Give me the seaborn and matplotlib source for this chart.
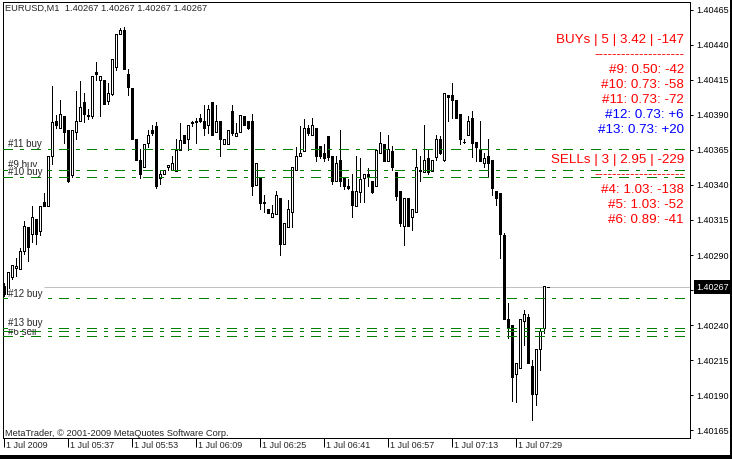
import numpy as np
import pandas as pd
import matplotlib
matplotlib.use("Agg")
import matplotlib.pyplot as plt
from matplotlib.patches import Rectangle
from matplotlib.transforms import blended_transform_factory, offset_copy
import seaborn as sns

# EURUSD M1 candles, 1 Jul 2009 (bar 0 = 05:21)
bar_open = [
    1.40268, 1.40262, 1.40274, 1.40281, 1.40280, 1.40293, 1.40310, 1.40305, 1.40316, 1.40307,
    1.40328, 1.40325, 1.40361, 1.40386, 1.40381, 1.40389, 1.40379, 1.40347, 1.40378, 1.40386,
    1.40399, 1.40389, 1.40389, 1.40421, 1.40415, 1.40415, 1.40400, 1.40405, 1.40424, 1.40448,
    1.40451, 1.40419, 1.40409, 1.40373, 1.40358, 1.40353, 1.40370, 1.40379, 1.40382, 1.40345,
    1.40348, 1.40353, 1.40351, 1.40350, 1.40365, 1.40376, 1.40373, 1.40384, 1.40385, 1.40388,
    1.40386, 1.40383, 1.40399, 1.40378, 1.40386, 1.40369, 1.40369, 1.40393, 1.40375, 1.40378,
    1.40389, 1.40386, 1.40386, 1.40340, 1.40346, 1.40328, 1.40323, 1.40317, 1.40319, 1.40331,
    1.40298, 1.40310, 1.40321, 1.40351, 1.40361, 1.40364, 1.40381, 1.40376, 1.40381, 1.40368,
    1.40363, 1.40375, 1.40361, 1.40343, 1.40358, 1.40345, 1.40339, 1.40336, 1.40325, 1.40335,
    1.40345, 1.40348, 1.40343, 1.40339, 1.40363, 1.40369, 1.40357, 1.40364, 1.40349, 1.40336,
    1.40311, 1.40331, 1.40317, 1.40321, 1.40351, 1.40349, 1.40359, 1.40350, 1.40360, 1.40373,
    1.40358, 1.40404, 1.40404, 1.40401, 1.40391, 1.40371, 1.40376, 1.40388, 1.40371, 1.40366,
    1.40356, 1.40361, 1.40358, 1.40336, 1.40334, 1.40304, 1.40244, 1.40240, 1.40205, 1.40209,
    1.40243, 1.40246, 1.40211, 1.40191, 1.40223, 1.40238, 1.40267,
]
bar_high = [
    1.40270, 1.40278, 1.40283, 1.40288, 1.40295, 1.40314, 1.40310, 1.40325, 1.40316, 1.40325,
    1.40334, 1.40361, 1.40411, 1.40390, 1.40401, 1.40389, 1.40379, 1.40379, 1.40407, 1.40414,
    1.40406, 1.40394, 1.40418, 1.40428, 1.40418, 1.40415, 1.40413, 1.40430, 1.40448, 1.40452,
    1.40453, 1.40423, 1.40409, 1.40373, 1.40366, 1.40369, 1.40379, 1.40383, 1.40385, 1.40350,
    1.40351, 1.40354, 1.40361, 1.40373, 1.40384, 1.40376, 1.40383, 1.40386, 1.40388, 1.40391,
    1.40397, 1.40397, 1.40399, 1.40397, 1.40386, 1.40373, 1.40379, 1.40397, 1.40384, 1.40390,
    1.40389, 1.40386, 1.40391, 1.40356, 1.40346, 1.40333, 1.40323, 1.40326, 1.40336, 1.40331,
    1.40313, 1.40329, 1.40353, 1.40367, 1.40382, 1.40387, 1.40383, 1.40388, 1.40381, 1.40368,
    1.40369, 1.40375, 1.40361, 1.40361, 1.40379, 1.40345, 1.40344, 1.40348, 1.40361, 1.40359,
    1.40348, 1.40352, 1.40343, 1.40365, 1.40378, 1.40369, 1.40376, 1.40368, 1.40349, 1.40336,
    1.40331, 1.40331, 1.40323, 1.40366, 1.40361, 1.40383, 1.40366, 1.40358, 1.40376, 1.40375,
    1.40406, 1.40404, 1.40413, 1.40401, 1.40391, 1.40373, 1.40389, 1.40393, 1.40371, 1.40386,
    1.40363, 1.40373, 1.40358, 1.40336, 1.40334, 1.40306, 1.40256, 1.40240, 1.40213, 1.40244,
    1.40251, 1.40248, 1.40215, 1.40223, 1.40238, 1.40268, 1.40267,
]
bar_low = [
    1.40261, 1.40261, 1.40273, 1.40275, 1.40280, 1.40291, 1.40286, 1.40299, 1.40298, 1.40304,
    1.40325, 1.40325, 1.40355, 1.40381, 1.40381, 1.40370, 1.40342, 1.40346, 1.40373, 1.40386,
    1.40385, 1.40387, 1.40388, 1.40415, 1.40389, 1.40398, 1.40398, 1.40404, 1.40422, 1.40448,
    1.40423, 1.40404, 1.40373, 1.40358, 1.40345, 1.40353, 1.40367, 1.40376, 1.40338, 1.40341,
    1.40348, 1.40351, 1.40351, 1.40350, 1.40365, 1.40370, 1.40365, 1.40382, 1.40370, 1.40385,
    1.40376, 1.40377, 1.40376, 1.40378, 1.40361, 1.40369, 1.40369, 1.40376, 1.40375, 1.40378,
    1.40383, 1.40380, 1.40333, 1.40340, 1.40323, 1.40321, 1.40320, 1.40317, 1.40319, 1.40290,
    1.40298, 1.40310, 1.40310, 1.40351, 1.40361, 1.40364, 1.40376, 1.40376, 1.40357, 1.40359,
    1.40357, 1.40358, 1.40341, 1.40343, 1.40339, 1.40337, 1.40337, 1.40317, 1.40325, 1.40328,
    1.40328, 1.40339, 1.40334, 1.40339, 1.40363, 1.40357, 1.40357, 1.40351, 1.40329, 1.40311,
    1.40297, 1.40311, 1.40308, 1.40321, 1.40343, 1.40349, 1.40348, 1.40350, 1.40358, 1.40362,
    1.40357, 1.40386, 1.40388, 1.40388, 1.40369, 1.40370, 1.40376, 1.40360, 1.40357, 1.40357,
    1.40353, 1.40346, 1.40333, 1.40326, 1.40288, 1.40244, 1.40231, 1.40186, 1.40185, 1.40209,
    1.40226, 1.40213, 1.40172, 1.40183, 1.40208, 1.40234, 1.40267,
]
bar_close = [
    1.40262, 1.40278, 1.40283, 1.40282, 1.40293, 1.40311, 1.40296, 1.40317, 1.40305, 1.40325,
    1.40325, 1.40361, 1.40385, 1.40383, 1.40391, 1.40378, 1.40343, 1.40379, 1.40386, 1.40396,
    1.40391, 1.40390, 1.40418, 1.40419, 1.40418, 1.40398, 1.40406, 1.40430, 1.40448, 1.40451,
    1.40423, 1.40410, 1.40373, 1.40358, 1.40348, 1.40369, 1.40376, 1.40377, 1.40339, 1.40348,
    1.40351, 1.40354, 1.40356, 1.40365, 1.40372, 1.40370, 1.40383, 1.40385, 1.40386, 1.40386,
    1.40381, 1.40394, 1.40376, 1.40386, 1.40373, 1.40373, 1.40379, 1.40377, 1.40377, 1.40390,
    1.40383, 1.40381, 1.40339, 1.40356, 1.40327, 1.40327, 1.40320, 1.40320, 1.40333, 1.40298,
    1.40313, 1.40323, 1.40353, 1.40361, 1.40363, 1.40381, 1.40377, 1.40383, 1.40361, 1.40361,
    1.40359, 1.40360, 1.40343, 1.40356, 1.40343, 1.40339, 1.40338, 1.40326, 1.40336, 1.40344,
    1.40348, 1.40346, 1.40335, 1.40365, 1.40370, 1.40357, 1.40366, 1.40353, 1.40332, 1.40313,
    1.40331, 1.40311, 1.40323, 1.40353, 1.40350, 1.40358, 1.40349, 1.40358, 1.40373, 1.40363,
    1.40406, 1.40403, 1.40401, 1.40388, 1.40373, 1.40371, 1.40386, 1.40370, 1.40367, 1.40357,
    1.40359, 1.40356, 1.40338, 1.40331, 1.40305, 1.40244, 1.40238, 1.40203, 1.40213, 1.40244,
    1.40248, 1.40213, 1.40191, 1.40223, 1.40236, 1.40268, 1.40267,
]

time_bars = [0, 16, 32, 48, 64, 80, 96, 112, 128]
time_labels = ["1 Jul 2009", "1 Jul 05:37", "1 Jul 05:53", "1 Jul 06:09", "1 Jul 06:25",
               "1 Jul 06:41", "1 Jul 06:57", "1 Jul 07:13", "1 Jul 07:29"]
price_ticks = [1.40165, 1.40190, 1.40215, 1.40240, 1.40265, 1.40290, 1.40315,
               1.40340, 1.40365, 1.40390, 1.40415, 1.40440, 1.40465]
bid = 1.40267

order_names = ["#9 buy", "#10 buy", "#11 buy", "#12 buy", "#13 buy", "#5 sell", "#6 sell"]
order_prices = [1.40351, 1.40346, 1.40366, 1.40259, 1.40238, 1.40236, 1.40232]

panel_text = ["BUYs | 5 | 3.42 | -147", "--------------------", "#9: 0.50: -42",
              "#10: 0.73: -58", "#11: 0.73: -72", "#12: 0.73: +6", "#13: 0.73: +20", "",
              "SELLs | 3 | 2.95 | -229", "--------------------", "#4: 1.03: -138",
              "#5: 1.03: -52", "#6: 0.89: -41"]
panel_color = ["#ff0000", "#ff0000", "#ff0000", "#ff0000", "#ff0000", "#0000ff", "#0000ff",
               "#ff0000", "#ff0000", "#ff0000", "#ff0000", "#ff0000", "#ff0000"]

sns.set_style("white")
plt.rcParams["font.family"] = ["Liberation Sans", "DejaVu Sans"]

fig = plt.figure(figsize=(7.32, 4.59), dpi=100)
ax = fig.add_axes([3 / 732, 21 / 459, 687 / 732, 436 / 459])

candles = pd.DataFrame({"open": bar_open, "high": bar_high, "low": bar_low, "close": bar_close})
candles["bar"] = np.arange(len(candles))
candles["up"] = candles["close"] >= candles["open"]

# wicks, then bodies (white = up, black = down), 1 px strokes
ax.vlines(candles["bar"], candles["low"], candles["high"], color="black",
          lw=0.72, antialiased=False, zorder=2)
ax.bar(candles["bar"], (candles["close"] - candles["open"]).abs(),
       bottom=candles[["open", "close"]].min(axis=1), width=0.5,
       color=np.where(candles["up"], "white", "black"), edgecolor="black",
       linewidth=0.72, antialiased=False, zorder=3)

# 4 px per bar, bar centres on pixel centres
ax.set_xlim(-0.125, 171.625)
ax.set_ylim(1.401593, 1.404707)

# bid line
ax.hlines(bid, 10, 171.625, color="#c0c0c0", lw=0.72, zorder=1.5)

# order lines and their labels
left_trans = offset_copy(blended_transform_factory(ax.transAxes, ax.transData),
                         fig=fig, x=5, y=1.5, units="dots")
for name, price in zip(order_names, order_prices):
    ax.axhline(price, color="#008000", lw=0.72, linestyle=(0, (10, 7, 3, 7)),
               antialiased=False, zorder=4)
    if name.endswith("buy"):
        ax.text(0, price, name, transform=left_trans, fontsize=7, ha="left", va="baseline",
                bbox=dict(facecolor="white", edgecolor="none", pad=0.3), zorder=5)
    else:
        ax.text(0, price, name, transform=left_trans, fontsize=7, ha="left", va="baseline",
                zorder=3.5)

# orders summary at the right
for k, (txt, col) in enumerate(zip(panel_text, panel_color)):
    ax.text(1, 1, txt, transform=offset_copy(ax.transAxes, fig=fig, x=-6, y=-(40.8 + 15 * k),
                                             units="dots"),
            ha="right", va="baseline", color=col, fontsize=9.6, zorder=6)

ax.text(0, 1, "EURUSD,M1  1.40267 1.40267 1.40267 1.40267",
        transform=offset_copy(ax.transAxes, fig=fig, x=2, y=-8.7, units="dots"),
        ha="left", va="baseline", fontsize=6.7)
ax.text(0, 0, "MetaTrader, \u00a9 2001-2009 MetaQuotes Software Corp.",
        transform=offset_copy(ax.transAxes, fig=fig, x=2, y=2.5, units="dots"),
        ha="left", va="baseline", fontsize=6.7)

# price axis on the right
ax.yaxis.tick_right()
ax.set_yticks(price_ticks)
ax.set_yticklabels(["" if abs(p - bid) < 0.0001 else f"{p:.5f}" for p in price_ticks])
ax.tick_params(axis="y", which="both", direction="out", length=2.2, width=0.72,
               pad=2.2, labelsize=6.5, colors="black", right=True, left=False)
ax.text(1, bid, f"{bid:.5f}",
        transform=offset_copy(blended_transform_factory(ax.transAxes, ax.transData),
                              fig=fig, x=6, y=0, units="dots"),
        ha="left", va="center", color="white", fontsize=6.5, clip_on=False,
        bbox=dict(facecolor="black", edgecolor="none", pad=1.6), zorder=7)

# time axis
ax.set_xticks(time_bars)
ax.set_xticklabels([])
ax.tick_params(axis="x", direction="out", length=6.5, width=0.72, bottom=True, colors="black")
time_trans = offset_copy(blended_transform_factory(ax.transData, ax.transAxes),
                         fig=fig, x=2, y=-3, units="dots")
for b, lab in zip(time_bars, time_labels):
    ax.text(b, 0, lab, transform=time_trans, ha="left", va="top", fontsize=6.5)

for spine in ax.spines.values():
    spine.set_visible(True)
    spine.set_color("black")
    spine.set_linewidth(0.72)

# window shadow on the right and bottom edges
fig.patches.append(Rectangle((730 / 732, 0), 2 / 732, 1, transform=fig.transFigure,
                             facecolor="black", edgecolor="none"))
fig.patches.append(Rectangle((0, 0), 1, 4 / 459, transform=fig.transFigure,
                             facecolor="black", edgecolor="none"))

fig.savefig("out.png", dpi=100)
